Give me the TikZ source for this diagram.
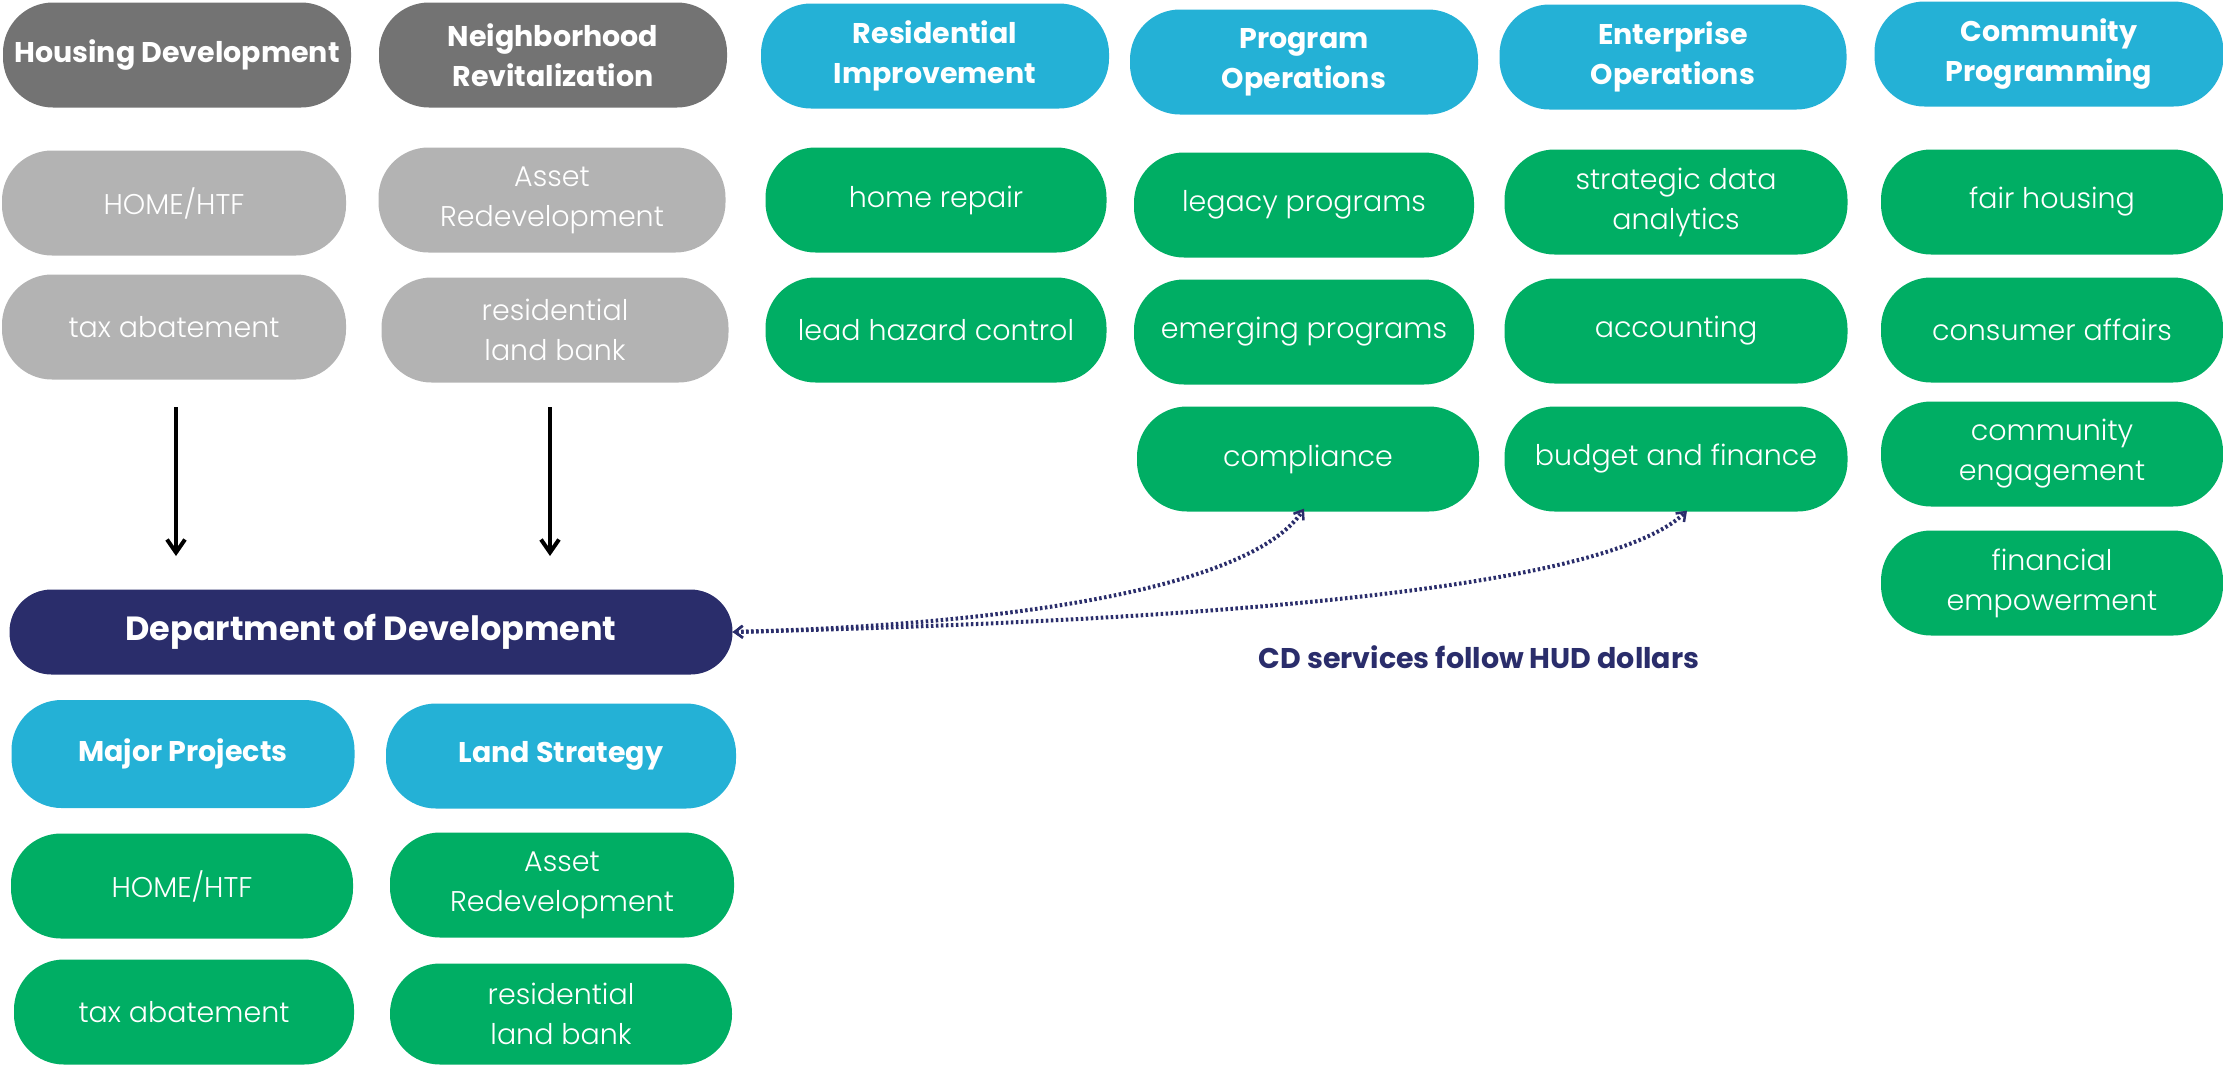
\documentclass[tikz,border=0pt]{standalone}
\usepackage{fontspec}
\setmainfont{Poppins}
\newfontfamily\itemfont{Poppins}[UprightFont={* Light}]
\usetikzlibrary{arrows.meta}
\definecolor{dgray}{HTML}{737373}
\definecolor{lgray}{HTML}{B3B3B3}
\definecolor{hblue}{HTML}{24B1D6}
\definecolor{igreen}{HTML}{00AE64}
\definecolor{navy}{HTML}{2A2D6B}
\tikzset{
  pill/.style={rounded corners=50pt, minimum width=344pt, minimum height=105pt, align=center, text=white, inner sep=0pt},
  head/.style={pill, font=\bfseries\fontsize{28.5}{40}\selectfont},
  item/.style={pill, font=\itemfont\fontsize{28.5}{40}\selectfont},
  blackarrow/.style={line width=4pt, -{Straight Barb[length=13pt,width=18pt,line width=4pt]}},
  hudlink/.style={navy, line width=4pt, dash pattern=on 2.5pt off 2.5pt, {Straight Barb[length=8pt,width=12pt,line width=2.5pt]}-{Straight Barb[length=8pt,width=12pt,line width=2.5pt]}}
}
\begin{document}
\begin{tikzpicture}[x=1pt,y=-1pt]
\useasboundingbox (0,0) rectangle (2223,1066);
% top-left gray columns
\node[head, fill=dgray, minimum width=348pt] (hd) at (177,55) {Housing Development};
\node[head, fill=dgray, minimum width=348pt] (nr) at (553,55) {Neighborhood\\Revitalization};
\node[item, fill=lgray] (hh1) at (174,203) {HOME/HTF};
\node[item, fill=lgray] (ta1) at (174,327) {tax abatement};
\node[item, fill=lgray, minimum width=347pt] (ar1) at (552,200) {Asset\\Redevelopment};
\node[item, fill=lgray, minimum width=347pt] (rl1) at (555,330) {residential\\land bank};
% headers blue
\node[head, fill=hblue, minimum width=348pt] (ri) at (935,56) {Residential\\Improvement};
\node[head, fill=hblue, minimum width=348pt] (po) at (1304,62) {Program\\Operations};
\node[head, fill=hblue, minimum width=347pt] (eo) at (1673,57) {Enterprise\\Operations};
\node[head, fill=hblue, minimum width=349pt] (cp) at (2049,54) {Community\\Programming};
% residential improvement
\node[item, fill=igreen, minimum width=341pt] (hr) at (936,200) {home repair};
\node[item, fill=igreen, minimum width=341pt] (lh) at (936,330) {lead hazard control};
% program operations
\node[item, fill=igreen, minimum width=340pt] (lp) at (1304,205) {legacy programs};
\node[item, fill=igreen, minimum width=340pt] (ep) at (1304,332) {emerging programs};
\node[item, fill=igreen, minimum width=342pt] (co) at (1308,459) {compliance};
% enterprise operations
\node[item, fill=igreen, minimum width=343pt] (sd) at (1676,202) {strategic data\\analytics};
\node[item, fill=igreen, minimum width=343pt] (ac) at (1676,331) {accounting};
\node[item, fill=igreen, minimum width=343pt] (bf) at (1676,459) {budget and finance};
% community programming
\node[item, fill=igreen, minimum width=342pt] (fh) at (2052,202) {fair housing};
\node[item, fill=igreen, minimum width=342pt] (ca) at (2052,330) {consumer affairs};
\node[item, fill=igreen, minimum width=342pt] (ce) at (2052,454) {community\\engagement};
\node[item, fill=igreen, minimum width=342pt] (fe) at (2052,583) {financial\\empowerment};
% department
\node[pill, fill=navy, minimum width=723pt, minimum height=85pt, rounded corners=42pt, font=\bfseries\fontsize{33.5}{38}\selectfont] (dod) at (371,632) {Department of Development};
% bottom
\node[head, fill=hblue, minimum width=343pt, minimum height=108pt] (mp) at (183,754) {Major Projects};
\node[head, fill=hblue, minimum width=350pt] (ls) at (561,756) {Land Strategy};
\node[item, fill=igreen, minimum width=342pt] (hh2) at (182,886) {HOME/HTF};
\node[item, fill=igreen, minimum width=344pt] (ar2) at (562,885) {Asset\\Redevelopment};
\node[item, fill=igreen, minimum width=340pt] (ta2) at (184,1012) {tax abatement};
\node[item, fill=igreen, minimum width=342pt, minimum height=101pt] (rl2) at (561,1014) {residential\\land bank};
% black arrows
\coordinate (a1s) at (176,407);
\coordinate (a1e) at (176,556);
\coordinate (a2s) at (550,407);
\coordinate (a2e) at (550,556);
\draw[blackarrow] (a1s) -- (a1e);
\draw[blackarrow] (a2s) -- (a2e);
% dotted links
\draw[hudlink] (dod.east) .. controls (1000,625) and (1250,590) .. ([xshift=-4pt,yshift=3pt]co.south);
\draw[hudlink] (dod.east) .. controls (1150,622) and (1600,595) .. ([xshift=11pt,yshift=1pt]bf.south);
\node[navy, font=\bfseries\fontsize{28.5}{32}\selectfont] (lbl) at (1479,657) {CD services follow HUD dollars};
\end{tikzpicture}
\end{document}
